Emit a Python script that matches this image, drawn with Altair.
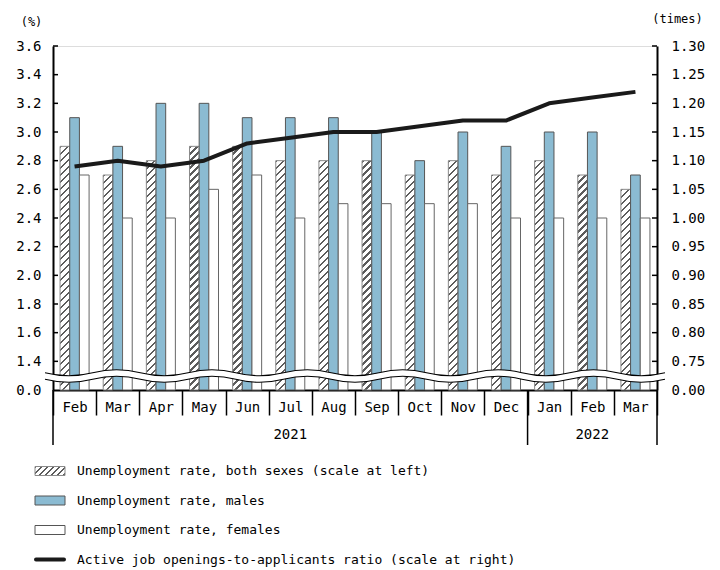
import altair as alt
import pandas as pd

# ---------------- data ----------------
periods = ["Feb 2021", "Mar 2021", "Apr 2021", "May 2021", "Jun 2021", "Jul 2021",
           "Aug 2021", "Sep 2021", "Oct 2021", "Nov 2021", "Dec 2021",
           "Jan 2022", "Feb 2022", "Mar 2022"]
both = [2.9, 2.7, 2.8, 2.9, 2.9, 2.8, 2.8, 2.8, 2.7, 2.8, 2.7, 2.8, 2.7, 2.6]
males = [3.1, 2.9, 3.2, 3.2, 3.1, 3.1, 3.1, 3.0, 2.8, 3.0, 2.9, 3.0, 3.0, 2.7]
females = [2.7, 2.4, 2.4, 2.6, 2.7, 2.4, 2.5, 2.5, 2.5, 2.5, 2.4, 2.4, 2.4, 2.4]
ratio = [1.09, 1.10, 1.09, 1.10, 1.13, 1.14, 1.15, 1.15, 1.16, 1.17, 1.17, 1.20, 1.21, 1.22]
years = ["2021", "2022"]
year_centres = ["Jul 2021", "Feb 2022"]
year_starts = ["Feb 2021", "Jan 2022"]
year_end = ["Mar 2022"]
left_ticks = [1.4, 1.6, 1.8, 2.0, 2.2, 2.4, 2.6, 2.8, 3.0, 3.2, 3.4, 3.6]
right_ticks = [0.75, 0.80, 0.85, 0.90, 0.95, 1.00, 1.05, 1.10, 1.15, 1.20, 1.25, 1.30]
legend_labels = ["Unemployment rate, both sexes (scale at left)",
                 "Unemployment rate, males",
                 "Unemployment rate, females",
                 "Active job openings-to-applicants ratio (scale at right)"]
series_keys = ["both", "males", "females"]

# ---------------- layout / style ----------------
W, H = 604, 344
LMIN, LMAX = 1.2, 3.6      # 1.2 is shown as the broken "0.0"
RMIN, RMAX = 0.70, 1.30    # 0.70 is shown as the broken "0.00"
FONT = "DejaVu Sans Mono"
BLUE = "#8bbbd2"
HATCH_DARK = "#5c5c5c"

def hatch_gradient(w, h, period=7.0, dark=2.4):
    total = w + h
    k = total / (w * w + h * h)
    stops = []
    pos = 0.0
    while pos < total:
        a = pos / total
        b = min((pos + dark) / total, 1.0)
        c = min((pos + period) / total, 1.0)
        stops += [{"offset": a, "color": HATCH_DARK}, {"offset": b, "color": HATCH_DARK},
                  {"offset": b, "color": "white"}, {"offset": c, "color": "white"}]
        pos += period
    return {"gradient": "linear", "x1": 0, "y1": 0, "x2": k * w, "y2": k * h, "stops": stops}

# ---------------- frames ----------------
rows = []
for i, p in enumerate(periods):
    rows.append({"period": p, "series": "both", "value": both[i]})
    rows.append({"period": p, "series": "males", "value": males[i]})
    rows.append({"period": p, "series": "females", "value": females[i]})
bars_df = pd.DataFrame(rows)
ratio_df = pd.DataFrame({"period": periods, "ratio": ratio})

x_axis = alt.Axis(title=None,
                  labelExpr="isString(datum.value) ? split(datum.value, ' ')[0] : ''",
                  labelAngle=0,
                  tickBand="extent", tickSize=25, tickWidth=1.5, tickColor="black",
                  domainColor="black", domainWidth=2, labelFont=FONT, labelFontSize=14,
                  labelColor="black", labelBaseline="middle", labelPadding=-8, grid=False)
x_scale = alt.Scale(domain=periods, paddingInner=0, paddingOuter=0)
x_enc = alt.X("period:N", sort=periods, scale=x_scale, axis=x_axis)
xo_enc = alt.XOffset("series:N", sort=series_keys,
                     scale=alt.Scale(domain=series_keys, paddingInner=0, paddingOuter=0.73))
left_scale = alt.Scale(domain=[LMIN, LMAX], zero=False, nice=False, clamp=True)
right_scale = alt.Scale(domain=[RMIN, RMAX], zero=False, nice=False)

left_axis = alt.Axis(orient="left", values=[LMIN] + left_ticks,
                     labelExpr="datum.value < 1.3 ? '0.0' : format(datum.value, '.1f')",
                     ticks=False, domainColor="black", domainWidth=2, grid=False,
                     labelFont=FONT, labelFontSize=14, labelColor="black", labelPadding=12,
                     title="(%)", titleAngle=0, titleX=-22, titleY=-25, titleAlign="center",
                     titleBaseline="middle", titleFont=FONT, titleFontSize=12,
                     titleFontWeight="normal", titleColor="black")
right_axis = alt.Axis(orient="right", values=[RMIN] + right_ticks,
                      labelExpr="datum.value < 0.72 ? '0.00' : format(datum.value, '.2f')",
                      ticks=False, domainColor="black", domainWidth=2, grid=False,
                      labelFont=FONT, labelFontSize=14, labelColor="black", labelPadding=14,
                      title="(times)", titleAngle=0, titleX=20, titleY=-28, titleAlign="center",
                      titleBaseline="middle", titleFont=FONT, titleFontSize=12,
                      titleFontWeight="normal", titleColor="black")

layers = []

def bar_layer(df, axis, **mark):
    return (alt.Chart(df).transform_calculate(base=str(LMIN)).mark_bar(**mark)
            .encode(x=x_enc, xOffset=xo_enc,
                    y=alt.Y("value:Q", scale=left_scale, axis=axis), y2=alt.Y2("base:Q")))

# hatched "both sexes" bars: one layer per bar height so the hatch spacing stays even
bar_w = (W / len(periods)) / (3 + 2 * 0.73)
for v in sorted(set(both)):
    sub = bars_df[(bars_df.series == "both") & (bars_df.value == v)]
    h = (v - LMIN) / (LMAX - LMIN) * H
    layers.append(bar_layer(sub, None, fill=hatch_gradient(bar_w, h), stroke="#8a8a8a", strokeWidth=1))

layers.append(bar_layer(bars_df[bars_df.series == "males"], left_axis,
                        fill=BLUE, stroke="#555555", strokeWidth=1))
layers.append(bar_layer(bars_df[bars_df.series == "females"], None,
                        fill="white", stroke="#666666", strokeWidth=1))
layers.append(
    alt.Chart(ratio_df).mark_line(color="#1a1a1a", strokeWidth=4, strokeJoin="round")
    .encode(x=x_enc, y=alt.Y("ratio:Q", scale=right_scale, axis=right_axis))
)

# inward ticks
layers.append(
    alt.Chart(pd.DataFrame({"v": left_ticks})).mark_rule(color="black", strokeWidth=1.5)
    .encode(y=alt.Y("v:Q", scale=left_scale, axis=None), x=alt.value(0), x2=alt.value(5))
)
layers.append(
    alt.Chart(pd.DataFrame({"v": right_ticks})).mark_rule(color="black", strokeWidth=1.5)
    .encode(y=alt.Y("v:Q", scale=right_scale, axis=None), x=alt.value(W - 5), x2=alt.value(W))
)

# wavy axis-break band
R = 310.0
n_half = 13
half = 2.0 / n_half
amp = 3.0 / R / 0.75
T = 3.3 / R

def seg_fwd(y0):
    s = ""
    for i in range(n_half):
        xs = -1 + i * half
        xe = xs + half
        d = amp if i % 2 == 0 else -amp
        s += f" C {xs + half/3:.5f} {y0 + d:.5f} {xs + 2*half/3:.5f} {y0 + d:.5f} {xe:.5f} {y0:.5f}"
    return s

def seg_back(y0):
    s = ""
    for i in reversed(range(n_half)):
        xs = -1 + (i + 1) * half
        xe = -1 + i * half
        d = amp if i % 2 == 0 else -amp
        s += f" C {xs - half/3:.5f} {y0 + d:.5f} {xs - 2*half/3:.5f} {y0 + d:.5f} {xe:.5f} {y0:.5f}"
    return s

band_path = f"M -1 {-T:.5f}" + seg_fwd(-T) + f" L 1 {T:.5f}" + seg_back(T) + " Z"
top_path = f"M -1 {-T:.5f}" + seg_fwd(-T)
bot_path = f"M -1 {T:.5f}" + seg_fwd(T)
one = alt.Data(values=[{}])
band_y = H - 14
layers.append(
    alt.Chart(one).mark_point(shape=band_path, size=(2 * R) ** 2, filled=True, fill="white",
                              strokeWidth=0, opacity=1)
    .encode(x=alt.value(W / 2), y=alt.value(band_y))
)
for pth in (top_path, bot_path):
    layers.append(
        alt.Chart(one).mark_point(shape=pth, size=(2 * R) ** 2, filled=False, stroke="black",
                                  strokeWidth=1.1, opacity=1)
        .encode(x=alt.value(W / 2), y=alt.value(band_y))
    )

# year separators and labels
layers.append(
    alt.Chart(pd.DataFrame({"period": year_starts})).mark_rule(color="black", strokeWidth=1.5)
    .encode(x=alt.X("period:N", sort=periods, scale=x_scale, axis=x_axis, bandPosition=0),
            y=alt.value(H), y2=alt.value(H + 55))
)
layers.append(
    alt.Chart(pd.DataFrame({"period": year_end})).mark_rule(color="black", strokeWidth=1.5)
    .encode(x=alt.X("period:N", sort=periods, scale=x_scale, axis=x_axis, bandPosition=1),
            y=alt.value(H), y2=alt.value(H + 55))
)
layers.append(
    alt.Chart(pd.DataFrame({"period": year_centres, "year": years}))
    .mark_text(font=FONT, fontSize=14, color="black", baseline="middle")
    .encode(x=x_enc, y=alt.value(H + 45), text="year:N")
)

# custom legend
LEG_Y0, LEG_DY = 425, 29.5
leg_df = pd.DataFrame({"label": legend_labels, "idx": list(range(len(legend_labels)))})
layers.append(
    alt.Chart(leg_df).transform_calculate(ypix=f"{LEG_Y0} + datum.idx * {LEG_DY}")
    .mark_text(font=FONT, fontSize=13, color="black", align="left", baseline="middle")
    .encode(x=alt.value(24), y=alt.Y("ypix:Q", scale=None), text="label:N")
)
sym = [("hatch", 0), ("blue", 1), ("white", 2)]
for kind, i in sym:
    yc = LEG_Y0 + i * LEG_DY
    if kind == "hatch":
        fill, stroke = hatch_gradient(30, 9, period=6.0, dark=2.4), "#8a8a8a"
    elif kind == "blue":
        fill, stroke = BLUE, "#555555"
    else:
        fill, stroke = "white", "#555555"
    layers.append(
        alt.Chart(one).mark_rect(fill=fill, stroke=stroke, strokeWidth=1)
        .encode(x=alt.value(-18), x2=alt.value(12), y=alt.value(yc - 4.5), y2=alt.value(yc + 4.5))
    )
layers.append(
    alt.Chart(one).mark_rule(color="#1a1a1a", strokeWidth=4, strokeCap="round")
    .encode(x=alt.value(-17), x2=alt.value(11), y=alt.value(LEG_Y0 + 3 * LEG_DY))
)

chart = (
    alt.layer(*layers)
    .resolve_scale(y="independent")
    .properties(width=W, height=H, autosize=alt.AutoSizeParams(type="none"),
                padding={"left": 45, "top": 38, "right": 55, "bottom": 180})
    .configure_view(stroke=None)
    .configure(background="white")
)

chart.save("out.html", embed_options={"renderer": "svg", "actions": False})
